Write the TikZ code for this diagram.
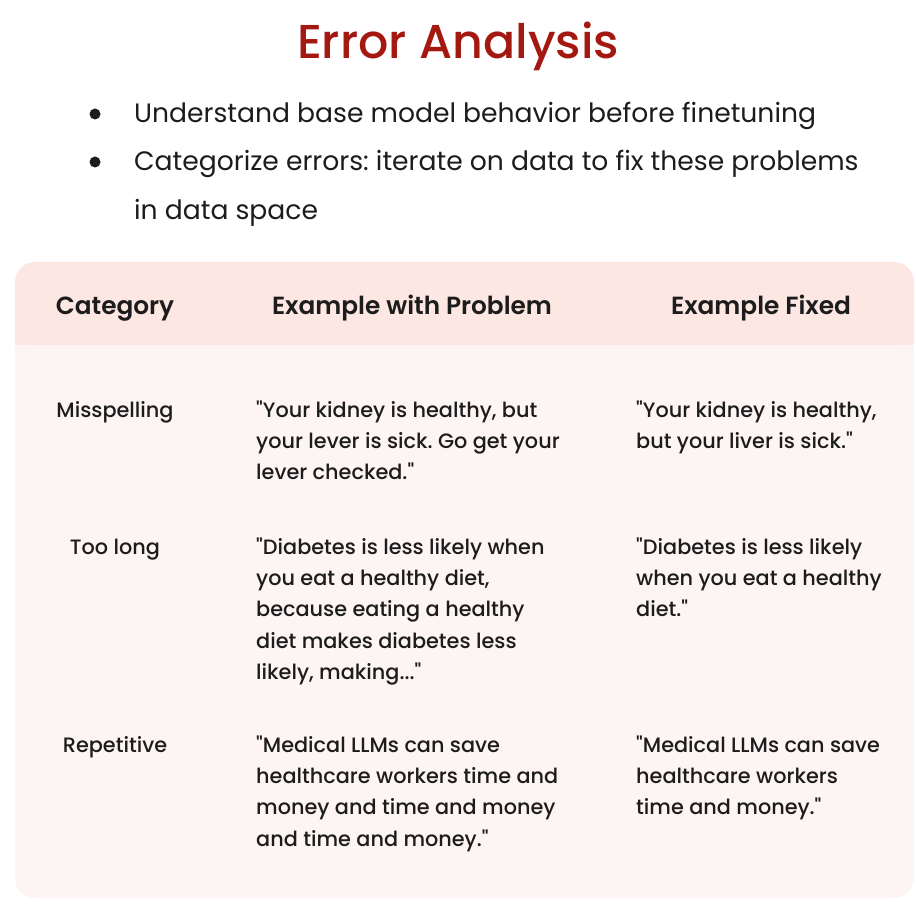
\documentclass[tikz,border=0pt]{standalone}
\usepackage{fontspec}
\setmainfont{Poppins}
\newfontfamily\poppinsmed{Poppins Medium}
\newfontfamily\poppinssemi{Poppins SemiBold}
\usetikzlibrary{positioning}
\frenchspacing
\definecolor{titlered}{RGB}{163,24,16}
\definecolor{headpink}{RGB}{252,231,226}
\definecolor{bodypink}{RGB}{253,244,244}
\definecolor{ink}{RGB}{28,28,28}
\tikzset{
  celltext/.style={anchor=north west,inner sep=0pt,align=left,text=ink,
    font=\poppinsmed\fontsize{20.8}{31.3}\selectfont},
  cattext/.style={anchor=base,inner sep=0pt,text=ink,
    font=\poppinsmed\fontsize{20.8}{31.3}\selectfont},
  headtext/.style={anchor=base,inner sep=0pt,text=ink,
    font=\poppinssemi\fontsize{24.8}{28}\selectfont},
  bullettext/.style={anchor=base west,inner sep=0pt,text=ink,
    font=\fontsize{26.6}{30}\selectfont}
}
\begin{document}
\begin{tikzpicture}[x=1pt,y=-1pt]
  \useasboundingbox (0,0) rectangle (915,917);
  % panel
  \fill[bodypink,rounded corners=20pt](15,300)--(15,898)--(914,898)--(914,300)--cycle;
  \fill[headpink,rounded corners=20pt](15,345)--(15,262)--(914,262)--(914,345)--cycle;
  \fill[headpink](15,320) rectangle (914,345);
  % title and bullets
  \node[anchor=base,inner sep=0pt,text=titlered,font=\poppinsmed\fontsize{47.5}{50}\selectfont] (title) at (458,59) {Error Analysis};
  \foreach \y in {114,162}{%
    \fill[ink](95,\y)circle(5.5pt);
  }
  \node[bullettext] (goal1) at (134,123) {Understand base model behavior before finetuning};
  \node[bullettext] (goal2) at (134,171) {Categorize errors: iterate on data to fix these problems};
  \node[bullettext] (goal3) at (134,219) {in data space};
  % header row
  \node[headtext] (hcat) at (115,314) {Category};
  \node[headtext] (hprob) at (412,314) {Example with Problem};
  \node[headtext] (hfix) at (761,314) {Example Fixed};
  % rows (first baselines at 417, 554, 752)
  \node[cattext] (cat1) at (115,417) {Misspelling};
  \node[celltext] (prob1) at (256,395.1) {\strut"Your kidney is healthy, but\\your lever is sick. Go get your\\lever checked."};
  \node[celltext] (fix1) at (636,395.1) {\strut"Your kidney is healthy,\\but your liver is sick."};
  \node[cattext] (cat2) at (115,554) {Too long};
  \node[celltext] (prob2) at (256,532.1) {\strut"Diabetes is less likely when\\you eat a healthy diet,\\because eating a healthy\\diet makes diabetes less\\likely, making..."};
  \node[celltext] (fix2) at (636,532.1) {\strut"Diabetes is less likely\\when you eat a healthy\\diet."};
  \node[cattext] (cat3) at (115,752) {Repetitive};
  \node[celltext] (prob3) at (256,730.1) {\strut"Medical LLMs can save\\healthcare workers time and\\money and time and money\\and time and money."};
  \node[celltext] (fix3) at (636,730.1) {\strut"Medical LLMs can save\\healthcare workers\\time and money."};
\end{tikzpicture}
\end{document}
